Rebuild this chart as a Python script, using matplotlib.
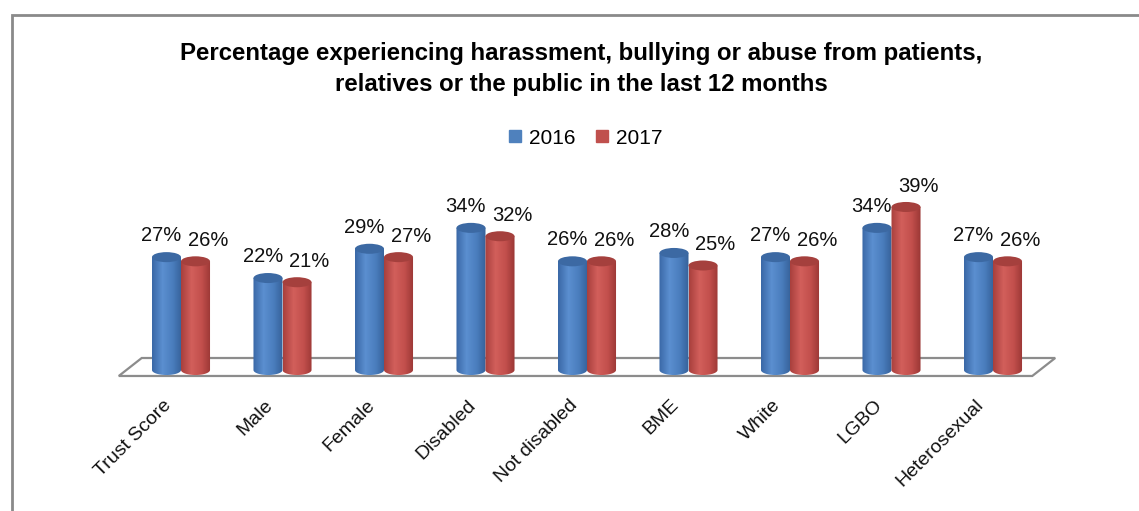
import numpy as np
import matplotlib
matplotlib.use("Agg")
import matplotlib.pyplot as plt
from matplotlib.patches import Ellipse, Polygon, PathPatch, Rectangle, Patch
from matplotlib.path import Path
from matplotlib.colors import LinearSegmentedColormap

plt.rcParams['font.family'] = ['Liberation Sans', 'DejaVu Sans']

categories = ['Trust Score', 'Male', 'Female', 'Disabled', 'Not disabled',
              'BME', 'White', 'LGBO', 'Heterosexual']
years = ['2016', '2017']
pct_2016 = [27, 22, 29, 34, 26, 28, 27, 34, 27]
pct_2017 = [26, 21, 27, 32, 26, 25, 26, 39, 26]

title = ('Percentage experiencing harassment, bullying or abuse from patients,\n'
         'relatives or the public in the last 12 months')

blue = '#4F81BD'
red = '#C0504D'

# shading across the cylinder body: dark edge, highlight, dark edge
blue_cmap = LinearSegmentedColormap.from_list(
    'bluecyl', [(0, '#3a68a6'), (0.35, '#5b8fd0'), (0.7, '#4a7dbd'), (1, '#36629a')])
red_cmap = LinearSegmentedColormap.from_list(
    'redcyl', [(0, '#a8403d'), (0.35, '#d25f5b'), (0.7, '#c24f4c'), (1, '#9a3735')])
blue_top = '#3c69a3'
red_top = '#a5403d'

W, H = 1139, 511
fig = plt.figure(figsize=(W / 100, H / 100), dpi=100)
ax = fig.add_axes([0, 0, 1, 1])
ax.set_axis_off()

# pixel scale of the plot: one category = 101.5 px, one percent = 4.18 px
x0_px, cat_px = 181, 101.5
y0_px, pct_px = 370, 4.18

bar_w = 0.286
ell_h = 2.4  # height of the cylinder ends, in percent units
n = len(categories)

# floor of the 3D plot
dx, dv = 0.113, 2.15
floor = Polygon([(-0.5 - dx, 0.72 - dv), (n - 0.5 - dx, 0.72 - dv),
                 (n - 0.5 + dx, 0.72 + dv), (-0.5 + dx, 0.72 + dv)],
                closed=True, facecolor='white', edgecolor='#8c8c8c', lw=1.6, zorder=1)
ax.add_patch(floor)


def cylinder(x, h, cmap, top_color):
    ry = ell_h / 2
    t = np.linspace(np.pi, 2 * np.pi, 40)
    bottom = np.column_stack([x + bar_w / 2 + bar_w / 2 * np.cos(t), ry * np.sin(t)])
    verts = np.vstack([[[x, h]], [[x, 0]], bottom, [[x + bar_w, h]], [[x, h]]])
    codes = [Path.MOVETO] + [Path.LINETO] * (len(verts) - 2) + [Path.CLOSEPOLY]
    body = PathPatch(Path(verts, codes), facecolor='none', edgecolor='none', zorder=2)
    ax.add_patch(body)
    grad = np.linspace(0, 1, 64).reshape(1, -1)
    img = ax.imshow(grad, extent=(x, x + bar_w, -ry, h), aspect='auto',
                    cmap=cmap, zorder=2, interpolation='bilinear')
    img.set_clip_path(body)
    ax.add_patch(Ellipse((x + bar_w / 2, h), bar_w, ell_h,
                         facecolor=top_color, edgecolor='none', zorder=3))


for i in range(n):
    cylinder(i - bar_w, pct_2016[i], blue_cmap, blue_top)
    cylinder(i, pct_2017[i], red_cmap, red_top)
    ax.text(i - bar_w / 2 - 0.05, pct_2016[i] + 5.2, f'{pct_2016[i]}%',
            ha='center', va='center', fontsize=14.5, color='#111111')
    ax.text(i + bar_w / 2 + 0.12, pct_2017[i] + 5.0, f'{pct_2017[i]}%',
            ha='center', va='center', fontsize=14.5, color='#111111')
    ax.text(i - 0.06, -6.3, categories[i], rotation=45, ha='right', va='top',
            fontsize=14, color='#111111')

ax.set_xlim(-x0_px / cat_px, (W - x0_px) / cat_px)
ax.set_ylim((y0_px - H) / pct_px, y0_px / pct_px)

fig.text(581 / W, 1 - 69 / H, title, ha='center', va='center', fontsize=17.3,
         fontweight='bold', linespacing=1.45, color='black')

handles = [Patch(color=blue), Patch(color=red)]
fig.legend(handles, years, loc='center', bbox_to_anchor=(586 / W, 1 - 138 / H),
           ncol=2, frameon=False, fontsize=15, handlelength=0.55, handleheight=0.55,
           handletextpad=0.4, columnspacing=1.0)

# outer chart border
fig.patches.append(Rectangle((11.5 / W, -0.1), 1.2, 1.1 - 14.5 / H,
                             transform=fig.transFigure, fill=False,
                             edgecolor='#8a8a8a', lw=2))

fig.savefig('out.png', dpi=100)
